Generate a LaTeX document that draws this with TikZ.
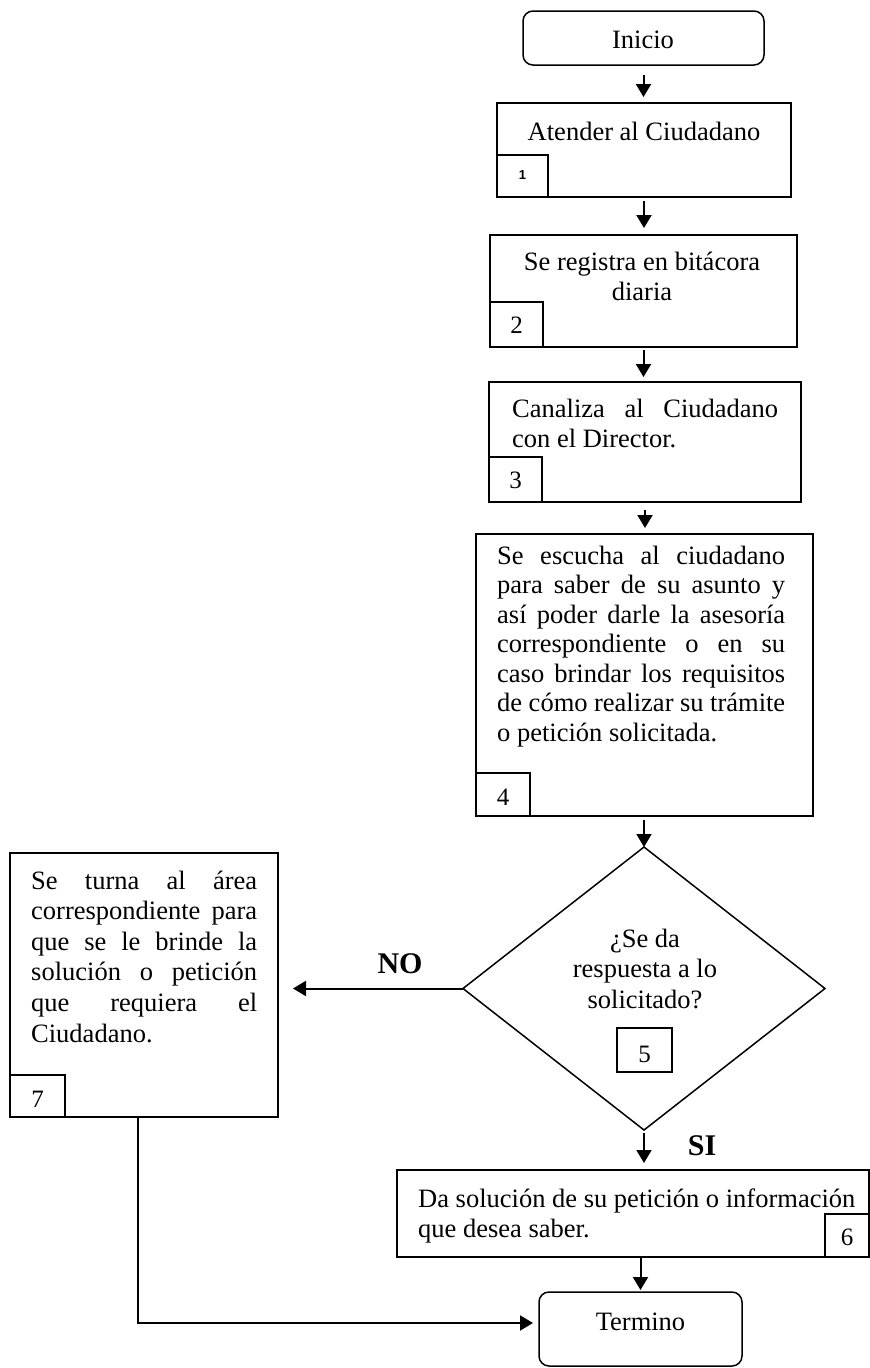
\documentclass[tikz,border=0pt]{standalone}
\usepackage{fontspec}
\setmainfont{Liberation Serif}
\newfontfamily\numsans{Liberation Sans}
\usetikzlibrary{shapes.geometric,arrows.meta}

% one line of a block: justified, flush left or centred, in a box of width #1
\newcommand\fjust[2]{\hbox to #1{#2}}
\newcommand\fleft[2]{\hbox to #1{#2\hfil}}
\newcommand\fcent[2]{\hbox to #1{\hfil#2\hfil}}
% a block of lines whose baseline is that of its first line
\newcommand\stackl[2]{\vtop{\baselineskip=#1\lineskiplimit=-20pt #2}}

\begin{document}
\begin{tikzpicture}[x=1pt,y=-1pt,
  box/.style={draw, line width=1.5pt, inner sep=0pt, outer sep=0pt, anchor=north west},
  term/.style={box, rounded corners=10pt},
  txt/.style={inner sep=0pt, font=\fontsize{26.5}{30}\selectfont},
  num/.style={inner sep=0pt, anchor=base, font=\fontsize{25}{27}\selectfont},
  lbl/.style={inner sep=0pt, anchor=base, font=\fontsize{30}{32}\selectfont\bfseries},
  conn/.style={line width=2pt, -{Triangle[length=13pt,width=15pt]}}]

\useasboundingbox (0,0) rectangle (870,1368);

% start
\node[term, minimum width=241pt, minimum height=54pt] (inicio) at (523,11) {};
\node[txt, anchor=base] (tinicio) at (643,48) {Inicio};

% step 1
\node[box, minimum width=294pt, minimum height=94pt] (b1) at (497,103) {};
\node[box, minimum width=51pt, minimum height=42pt] (n1) at (497,155) {};
\node[txt, anchor=base] (t1) at (644,140) {Atender al Ciudadano};
\node[num, font=\numsans\bfseries\fontsize{13}{15}\selectfont] (k1) at (522.5,179) {1};

% step 2
\node[box, minimum width=307pt, minimum height=112pt] (b2) at (490,235) {};
\node[box, minimum width=53pt, minimum height=45pt] (n2) at (490,302) {};
\node[txt, anchor=base] (t2) at (642,270) {\stackl{30pt}{%
  \fcent{300pt}{Se registra en bitácora}%
  \fcent{300pt}{diaria}}};
\node[num] (k2) at (516.5,333) {2};

% step 3
\node[box, minimum width=312pt, minimum height=120pt] (b3) at (489,382) {};
\node[box, minimum width=53pt, minimum height=45pt] (n3) at (489,457) {};
\node[txt, anchor=base west] (t3) at (512,417) {\stackl{30pt}{%
  \fjust{266pt}{Canaliza al Ciudadano}%
  \fleft{266pt}{con el Director.}}};
\node[num] (k3) at (515.5,488) {3};

% step 4
\node[box, minimum width=337pt, minimum height=282pt] (b4) at (476,534) {};
\node[box, minimum width=54pt, minimum height=43pt] (n4) at (476,773) {};
\node[txt, anchor=base west] (t4) at (497,564) {\stackl{29.5pt}{%
  \fjust{288pt}{Se escucha al ciudadano}%
  \fjust{288pt}{para saber de su asunto y}%
  \fjust{288pt}{así poder darle la asesoría}%
  \fjust{288pt}{correspondiente o en su}%
  \fjust{288pt}{caso brindar los requisitos}%
  \fjust{288pt}{de cómo realizar su trámite}%
  \fleft{288pt}{o petición solicitada.}}};
\node[num] (k4) at (503,805) {4};

% decision 5
\node[diamond, draw, line width=1.5pt, inner sep=0pt, outer sep=0pt,
      minimum width=362pt, minimum height=283pt] (d5) at (644,988.5) {};
\node[txt, anchor=base] (t5) at (645,947) {\stackl{30.5pt}{%
  \fcent{220pt}{¿Se da}%
  \fcent{220pt}{respuesta a lo}%
  \fcent{220pt}{solicitado?}}};
\node[box, minimum width=55pt, minimum height=44pt] (n5) at (617,1028) {};
\node[num] (k5) at (644.5,1062) {5};

% step 7
\node[box, minimum width=268pt, minimum height=264pt] (b7) at (10,853) {};
\node[box, minimum width=55pt, minimum height=42pt] (n7) at (10,1075) {};
\node[txt, anchor=base west] (t7) at (31,889) {\stackl{30.6pt}{%
  \fjust{226pt}{Se turna al área}%
  \fjust{226pt}{correspondiente para}%
  \fjust{226pt}{que se le brinde la}%
  \fjust{226pt}{solución o petición}%
  \fjust{226pt}{que requiera el}%
  \fleft{226pt}{Ciudadano.}}};
\node[num] (k7) at (37.5,1107) {7};

% step 6
\node[box, minimum width=472pt, minimum height=87pt] (b6) at (397,1170) {};
\node[box, minimum width=44pt, minimum height=43pt] (n6) at (825,1214) {};
\node[txt, anchor=base west] (t6) at (418,1207) {\stackl{30pt}{%
  \fleft{450pt}{Da solución de su petición o información}%
  \fleft{450pt}{que desea saber.}}};
\node[num] (k6) at (847,1245) {6};

% end
\node[term, minimum width=203pt, minimum height=74pt] (termino) at (539,1292) {};
\node[txt, anchor=base] (tterm) at (640.5,1330) {Termino};

% branch labels
\node[lbl] (lno) at (400,973) {NO};
\node[lbl] (lsi) at (702,1155) {SI};

% connectors
\draw[conn, shorten <=10pt, shorten >=6pt] (inicio.south) -- (inicio.south |- b1.north);
\draw[conn, shorten <=4pt, shorten >=7pt] (b1.south) -- (b1.south |- b2.north);
\draw[conn, shorten <=3pt, shorten >=5pt] (b2.south) -- (b2.south |- b3.north);
\draw[conn, shorten <=8pt, shorten >=6pt] (b3.south) -- (b3.south |- b4.north);
\draw[conn, shorten <=4pt] (d5.north |- b4.south) -- (d5.north);
\draw[conn, shorten <=3pt, shorten >=7pt] (d5.south) -- (d5.south |- b6.north);
\draw[conn, shorten <=1pt, shorten >=2pt] (termino.north |- b6.south) -- (termino.north);
\draw[conn, shorten >=15pt] (d5.west) -- (d5.west -| b7.east);
\draw[conn, shorten >=6pt] ([xshift=-6pt]b7.south) |- ([yshift=6pt]termino.west);
\end{tikzpicture}
\end{document}
